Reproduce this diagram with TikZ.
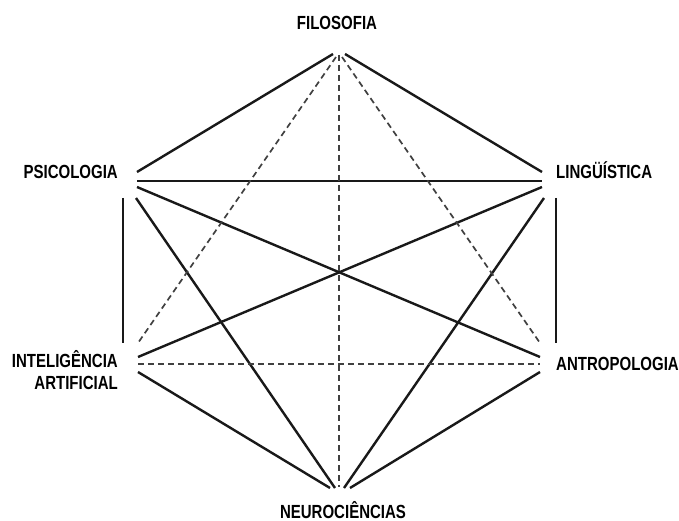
\documentclass[tikz,border=0pt]{standalone}
\usepackage{fontspec}
\setmainfont{Liberation Sans}[FakeStretch=0.79]
\begin{document}
\begin{tikzpicture}[x=1pt,y=-1pt,
  lab/.style={inner sep=0pt,font=\fontsize{19}{21}\selectfont\bfseries},
  solidline/.style={line width=2.4pt,black!90},
  dashline/.style={line width=1.7pt,black!75,dash pattern=on 6pt off 4pt}]
\useasboundingbox (0,0) rectangle (679,521);
% labels
\node[lab,anchor=base] (fil) at (337,30) {FILOSOFIA};
\node[lab,anchor=base east] (psi) at (118,179) {PSICOLOGIA};
\node[lab,anchor=base west] (lin) at (556,179) {LINGÜÍSTICA};
\node[lab,anchor=base east,align=right] (ia) at (118,389) {INTELIGÊNCIA\\[1pt]ARTIFICIAL};
\node[lab,anchor=base west] (ant) at (556,370) {ANTROPOLOGIA};
\node[lab,anchor=base] (neu) at (343,518) {NEUROCIÊNCIAS};
% endpoints
\coordinate (fL) at (333,54);
\coordinate (fR) at (345,54);
\coordinate (fC) at (339,55);
\coordinate (fdL) at (336,57);
\coordinate (fdR) at (342,57);
\coordinate (pF) at (137,172);
\coordinate (pH) at (137,181);
\coordinate (pA) at (137,187);
\coordinate (pN) at (136,198);
\coordinate (pV) at (123,198);
\coordinate (lF) at (542,172);
\coordinate (lH) at (542,181);
\coordinate (lI) at (542,187);
\coordinate (lN) at (544,198);
\coordinate (lV) at (556,198);
\coordinate (iV) at (123,343);
\coordinate (iF) at (138,343);
\coordinate (iL) at (138,357);
\coordinate (iH) at (138,364);
\coordinate (iN) at (138,372);
\coordinate (aV) at (556,343);
\coordinate (aF) at (540,343);
\coordinate (aP) at (540,357);
\coordinate (aH) at (540,364);
\coordinate (aN) at (540,372);
\coordinate (nI) at (330,488);
\coordinate (nP) at (335,488);
\coordinate (nC) at (339,487);
\coordinate (nL) at (344,488);
\coordinate (nA) at (350,488);
% solid connectors
\draw[solidline] (pF) -- (fL);
\draw[solidline] (fR) -- (lF);
\draw[solidline] (pH) -- (lH);
\draw[solidline] (pA) -- (aP);
\draw[solidline] (iL) -- (lI);
\draw[solidline] (pN) -- (nP);
\draw[solidline] (lN) -- (nL);
\draw[solidline] (iN) -- (nI);
\draw[solidline] (aN) -- (nA);
\draw[solidline] (pV) -- (iV);
\draw[solidline] (lV) -- (aV);
% dashed connectors
\draw[dashline] (fdL) -- (iF);
\draw[dashline] (fdR) -- (aF);
\draw[dashline] (fC) -- (nC);
\draw[dashline] (iH) -- (aH);
\end{tikzpicture}
\end{document}
